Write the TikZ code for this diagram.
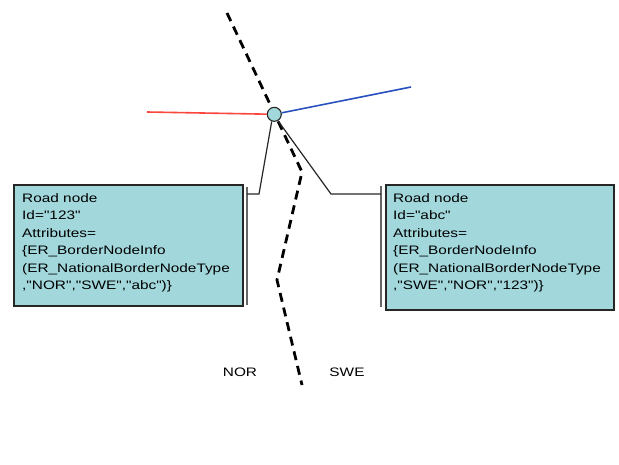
\documentclass[tikz,border=0pt]{standalone}
\usepackage{fontspec}
\newfontfamily\lab[FakeStretch=1.25]{Liberation Sans}
\definecolor{boxfill}{RGB}{162,216,220}
\definecolor{redline}{RGB}{250,70,60}
\definecolor{blueline}{RGB}{40,80,190}
\begin{document}
\begin{tikzpicture}[x=1pt,y=-1pt,
  box/.style={draw=black!85, line width=1.5pt, fill=boxfill},
  txt/.style={font=\lab\fontsize{12.3}{17.5}\selectfont, align=left, inner sep=0pt, anchor=north west},
  bracket/.style={draw=black!60, line width=2.6pt},
  conn/.style={draw=black!85, line width=1.2pt},
  border/.style={draw=black, line width=2.8pt, dash pattern=on 9pt off 6pt},
  lbl/.style={font=\lab\fontsize{12.3}{14}\selectfont, inner sep=0pt}]
\useasboundingbox (0,0) rectangle (619,464);
% border dashed line
\coordinate (b0) at (227,13);
\coordinate (b1) at (302,172);
\coordinate (b2) at (277,280);
\coordinate (b3) at (302,385);
\draw[border] (b0) -- (b1) -- (b2) -- (b3);
% road links
\coordinate (rl) at (147,112);
\coordinate (bl) at (411,87);
\node[circle, draw=black!85, fill=boxfill, line width=1.1pt, minimum size=14pt, inner sep=0pt] (c) at (274.3,114.3) {};
\draw[redline, line width=1.6pt] (rl) -- (c);
\draw[blueline, line width=1.6pt] (c) -- (bl);
% boxes
\draw[box] (14,185) rectangle (243,306);
\draw[box] (386,185) rectangle (614,310);
\coordinate (lbt) at (247,187); \coordinate (lbb) at (247,305);
\coordinate (rbt) at (381,186); \coordinate (rbb) at (381,307);
\draw[bracket] (lbt) -- (lbb);
\draw[bracket] (rbt) -- (rbb);
\node[txt] (lt) at (22,193) {Road node\\Id="123"\\Attributes=\\\{ER\_BorderNodeInfo\\(ER\_NationalBorderNodeType\\,"NOR","SWE","abc")\}};
\node[txt] (rt) at (393,193) {Road node\\Id="abc"\\Attributes=\\\{ER\_BorderNodeInfo\\(ER\_NationalBorderNodeType\\,"SWE","NOR","123")\}};
% connectors
\coordinate (lk) at (259,194);
\coordinate (lend) at (247,194);
\coordinate (rk) at (331,194);
\coordinate (rend) at (381,194);
\draw[conn] (c.250) -- (lk) -- (lend);
\draw[conn] (c.300) -- (rk) -- (rend);
% labels
\node[lbl] (nor) at (240,372) {NOR};
\node[lbl] (swe) at (347,372) {SWE};
\end{tikzpicture}
\end{document}
